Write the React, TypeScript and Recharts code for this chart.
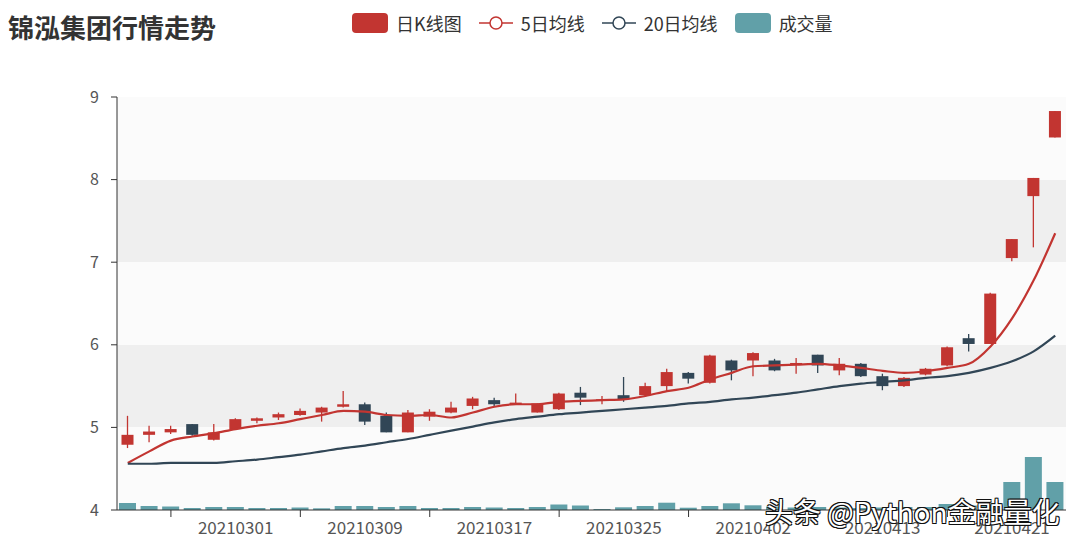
import { ComposedChart, Bar, Line, XAxis, YAxis, CartesianGrid } from 'recharts'

const dates = [
  '20210222', '20210223', '20210224', '20210225', '20210226',
  '20210301', '20210302', '20210303', '20210304', '20210305',
  '20210308', '20210309', '20210310', '20210311', '20210312',
  '20210315', '20210316', '20210317', '20210318', '20210319',
  '20210322', '20210323', '20210324', '20210325', '20210326',
  '20210329', '20210330', '20210331', '20210401', '20210402',
  '20210406', '20210407', '20210408', '20210409',
  '20210412', '20210413', '20210414', '20210415', '20210416',
  '20210419', '20210420', '20210421', '20210422', '20210423',
]

const opens = [
  4.79, 4.91, 4.94, 5.04, 4.85, 4.98, 5.08, 5.12, 5.15, 5.18,
  5.25, 5.28, 5.14, 4.94, 5.13, 5.18, 5.26, 5.33, 5.28, 5.18,
  5.22, 5.42, 5.32, 5.39, 5.39, 5.5, 5.66, 5.54, 5.81, 5.81,
  5.81, 5.76, 5.88, 5.69, 5.77, 5.62, 5.5, 5.64, 5.75, 6.08,
  6.01, 7.05, 7.8, 8.51,
]
const closes = [
  4.91, 4.95, 4.98, 4.91, 4.94, 5.1, 5.11, 5.16, 5.2, 5.24,
  5.28, 5.07, 4.94, 5.18, 5.19, 5.24, 5.35, 5.28, 5.3, 5.29,
  5.41, 5.36, 5.34, 5.34, 5.5, 5.67, 5.59, 5.87, 5.69, 5.9,
  5.69, 5.78, 5.75, 5.77, 5.62, 5.5, 5.6, 5.71, 5.97, 6.01,
  6.62, 7.28, 8.02, 8.83,
]
const lows = [
  4.75, 4.82, 4.92, 4.9, 4.84, 4.97, 5.05, 5.09, 5.14, 5.07,
  5.24, 5.03, 4.94, 4.94, 5.08, 5.17, 5.22, 5.26, 5.28, 5.18,
  5.21, 5.27, 5.28, 5.31, 5.38, 5.43, 5.53, 5.53, 5.57, 5.62,
  5.68, 5.65, 5.66, 5.63, 5.61, 5.45, 5.49, 5.63, 5.74, 5.92,
  6.01, 7.01, 7.18, 8.51,
]
const highs = [
  5.14, 5.02, 5.02, 5.04, 5.04, 5.11, 5.12, 5.18, 5.23, 5.25,
  5.44, 5.3, 5.18, 5.21, 5.22, 5.31, 5.37, 5.36, 5.41, 5.29,
  5.42, 5.49, 5.38, 5.61, 5.54, 5.71, 5.67, 5.88, 5.82, 5.91,
  5.83, 5.84, 5.88, 5.84, 5.78, 5.65, 5.61, 5.72, 5.98, 6.13,
  6.63, 7.28, 8.02, 8.83,
]
const ma5 = [
  4.57, 4.71, 4.84, 4.89, 4.93, 4.98, 5.02, 5.05, 5.1, 5.15,
  5.2, 5.19, 5.15, 5.14, 5.15, 5.12, 5.18, 5.25, 5.28, 5.28,
  5.31, 5.32, 5.33, 5.34, 5.38, 5.44, 5.48, 5.58, 5.66, 5.74,
  5.75, 5.76, 5.77, 5.75, 5.72, 5.685, 5.66, 5.68, 5.72, 5.77,
  5.98, 6.32, 6.78, 7.35,
]
const ma20 = [
  4.56, 4.56, 4.57, 4.57, 4.57, 4.59, 4.61, 4.64, 4.67, 4.71,
  4.75, 4.78, 4.82, 4.86, 4.91, 4.96, 5.01, 5.06, 5.1, 5.13,
  5.16, 5.18, 5.2, 5.22, 5.24, 5.26, 5.29, 5.31, 5.34, 5.36,
  5.39, 5.42, 5.46, 5.5, 5.53, 5.55, 5.57, 5.6, 5.62, 5.66,
  5.72, 5.8, 5.92, 6.11,
]
// 成交量
const volumes = [
  70, 40, 35, 20, 30, 30, 20, 20, 25, 17,
  40, 40, 30, 40, 20, 20, 30, 25, 20, 30,
  55, 45, 10, 27, 40, 73, 23, 40, 67, 47,
  35, 25, 30, 25, 20, 25, 30, 30, 60, 45,
  55, 280, 530, 280,
]
const priceTicks = [4, 5, 6, 7, 8, 9]

const UP = '#c23531'
const DOWN = '#314656'
const VOL = '#61a0a8'
const AXIS = '#333'
const LABEL = '#555'
const FONT = '"Noto Sans CJK SC", "Noto Sans", sans-serif'

const TICK_SIZE = 7
const TICK_MARGIN = 2

const data = dates.map((date, i) => ({
  date,
  open: opens[i],
  close: closes[i],
  low: lows[i],
  high: highs[i],
  range: [lows[i], highs[i]],
  ma5: ma5[i],
  ma20: ma20[i],
  volume: volumes[i],
}))

function Candle(props: any) {
  const { x, y, width, height, payload } = props
  const { open, close, low, high } = payload
  const color = close >= open ? UP : DOWN
  const ratio = high === low ? 0 : height / (high - low)
  const cx = x + width / 2
  const bodyTop = y + (high - Math.max(open, close)) * ratio
  const bodyH = Math.max(Math.abs(open - close) * ratio, 1.5)
  const bw = 12
  return (
    <g>
      <line x1={cx} x2={cx} y1={y} y2={y + height} stroke={color} strokeWidth={1.3} />
      <rect x={cx - bw / 2} y={bodyTop} width={bw} height={bodyH} fill={color} />
    </g>
  )
}

function DateTick(props: any) {
  const { x, y, payload } = props
  const i = props.index ?? payload.index
  if (i % 6 === 2) {
    return (
      <line x1={x} x2={x} y1={y - TICK_MARGIN - TICK_SIZE} y2={y - TICK_MARGIN} stroke={AXIS} strokeWidth={1} />
    )
  }
  if (i % 6 === 5) {
    return (
      <text x={x} y={y + 15} textAnchor="middle" fontSize={17} fill={LABEL} fontFamily={FONT}>
        {payload.value}
      </text>
    )
  }
  return <g />
}

const legendItems = [
  { name: '日K线图', color: UP, kind: 'rect' },
  { name: '5日均线', color: UP, kind: 'line' },
  { name: '20日均线', color: DOWN, kind: 'line' },
  { name: '成交量', color: VOL, kind: 'rect' },
]

function ChartLegend() {
  return (
    <div style={{ position: 'absolute', left: 352, top: 13, display: 'flex', alignItems: 'center', gap: 17 }}>
      {legendItems.map((item) => (
        <div key={item.name} style={{ display: 'flex', alignItems: 'center', gap: 8 }}>
          {item.kind === 'rect' ? (
            <div style={{ width: 36, height: 20, borderRadius: 4, background: item.color }} />
          ) : (
            <svg width={34} height={20}>
              <line x1={0} x2={34} y1={10} y2={10} stroke={item.color} strokeWidth={1.5} />
              <circle cx={17} cy={10} r={6} fill="#fff" stroke={item.color} strokeWidth={1.5} />
            </svg>
          )}
          <span style={{ fontSize: 18, color: '#333', lineHeight: '20px' }}>{item.name}</span>
        </div>
      ))}
    </div>
  )
}

export default function App() {
  return (
    <div
      style={{
        position: 'relative',
        width: 1080,
        height: 542,
        margin: -8,
        background: '#fff',
        fontFamily: FONT,
        overflow: 'hidden',
      }}
    >
      <ComposedChart
        width={1080}
        height={542}
        data={data}
        margin={{ top: 97, right: 14, bottom: 2, left: 67 }}
        barGap={-17}
        barSize={17}
      >
        <CartesianGrid
          yAxisId="price"
          vertical={false}
          stroke="transparent"
          horizontalFill={['#fbfbfb', '#efefef']}
        />
        <XAxis
          dataKey="date"
          interval={0}
          height={30}
          tick={<DateTick />}
          tickLine={false}
          tickSize={TICK_SIZE}
          tickMargin={TICK_MARGIN}
          axisLine={{ stroke: AXIS }}
        />
        <YAxis
          yAxisId="price"
          width={50}
          domain={[4, 9]}
          ticks={priceTicks}
          tickSize={6}
          tickMargin={12}
          axisLine={{ stroke: AXIS }}
          tickLine={{ stroke: AXIS }}
          tick={{ fill: LABEL, fontSize: 16, fontFamily: FONT }}
        />
        <YAxis yAxisId="vol" orientation="right" hide domain={[0, 4130]} />
        <Bar yAxisId="vol" dataKey="volume" fill={VOL} isAnimationActive={false} />
        <Bar yAxisId="price" dataKey="range" shape={<Candle />} isAnimationActive={false} />
        <Line
          yAxisId="price"
          dataKey="ma5"
          type="monotone"
          stroke={UP}
          strokeWidth={2.2}
          dot={false}
          isAnimationActive={false}
        />
        <Line
          yAxisId="price"
          dataKey="ma20"
          type="monotone"
          stroke={DOWN}
          strokeWidth={2.2}
          dot={false}
          isAnimationActive={false}
        />
      </ComposedChart>
      <div
        style={{
          position: 'absolute',
          left: 8,
          top: 10,
          fontSize: 26,
          fontWeight: 'bold',
          color: '#333',
          lineHeight: '34px',
        }}
      >
        锦泓集团行情走势
      </div>
      <ChartLegend />
      <div
        style={{
          position: 'absolute',
          left: 765,
          top: 494,
          fontSize: 28,
          lineHeight: '34px',
          color: '#fff',
          whiteSpace: 'nowrap',
          textShadow:
            '1px 1px 0 #111, -1px -1px 0 #111, 1px -1px 0 #111, -1px 1px 0 #111, 0 1px 0 #111, 0 -1px 0 #111',
        }}
      >
        头条 @Python金融量化
      </div>
    </div>
  )
}
